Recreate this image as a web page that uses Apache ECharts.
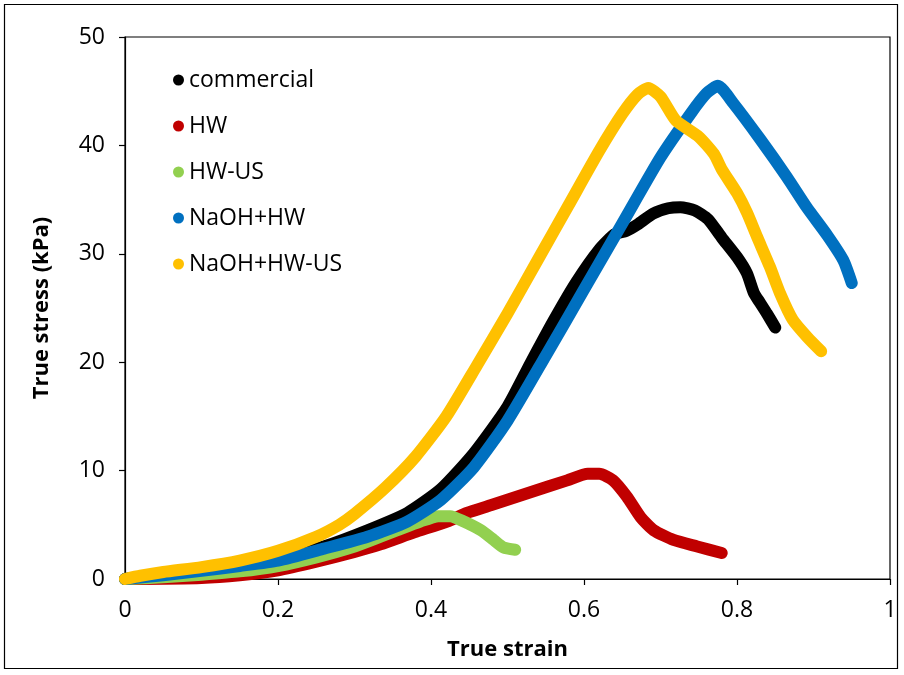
<!DOCTYPE html>
<html>
<head>
<meta charset="utf-8">
<script src="https://cdn.jsdelivr.net/npm/echarts@6/dist/echarts.min.js"></script>
<style>
html,body{margin:0;padding:0;background:#fff;}
#chart{width:904px;height:675px;}
</style>
</head>
<body>
<div id="chart"></div>
<script>
// Series names (legend order)
const seriesNames = ["commercial", "HW", "HW-US", "NaOH+HW", "NaOH+HW-US"];
const seriesColors = ["#000000", "#C00000", "#92D050", "#0070C0", "#FFC000"];

// [true strain, true stress (kPa)]
const commercial = [[0,0],[0.05,0.35],[0.1,0.75],[0.15,1.2],[0.2,1.8],[0.26,3.0],[0.317,4.5],[0.369,6.1],[0.413,8.3],[0.456,11.6],[0.5,15.9],[0.53,19.9],[0.56,23.8],[0.59,27.4],[0.62,30.4],[0.64,31.8],[0.655,32.1],[0.67,32.7],[0.69,33.7],[0.71,34.2],[0.726,34.3],[0.745,34.0],[0.762,33.2],[0.78,31.5],[0.80,29.7],[0.813,28.2],[0.822,26.4],[0.83,25.5],[0.839,24.5],[0.85,23.2]];
const hw = [[0,0],[0.1,0.1],[0.15,0.35],[0.2,0.8],[0.25,1.6],[0.3,2.5],[0.334,3.2],[0.378,4.3],[0.421,5.3],[0.447,6.1],[0.478,6.8],[0.53,8.0],[0.578,9.1],[0.605,9.7],[0.62,9.7],[0.638,9.1],[0.656,7.6],[0.674,5.7],[0.691,4.5],[0.717,3.6],[0.748,3.0],[0.78,2.4]];
const hwUs = [[0,0],[0.05,0.15],[0.1,0.4],[0.15,0.7],[0.2,1.2],[0.25,2.0],[0.3,3.0],[0.334,3.9],[0.356,4.5],[0.386,5.3],[0.41,5.8],[0.425,5.8],[0.443,5.3],[0.465,4.5],[0.482,3.6],[0.495,2.9],[0.51,2.7]];
const naohHw = [[0,0],[0.05,0.35],[0.1,0.75],[0.15,1.2],[0.2,1.7],[0.26,2.8],[0.317,3.9],[0.369,5.3],[0.413,7.3],[0.456,10.3],[0.5,14.6],[0.55,20.6],[0.6,26.7],[0.65,32.8],[0.7,38.9],[0.74,43.0],[0.76,44.8],[0.775,45.5],[0.795,43.9],[0.83,40.6],[0.865,37.1],[0.891,34.3],[0.918,31.7],[0.939,29.4],[0.95,27.3]];
const naohHwUs = [[0,0],[0.02,0.3],[0.05,0.65],[0.1,1.1],[0.15,1.7],[0.2,2.6],[0.25,3.9],[0.28,5.0],[0.3,6.0],[0.34,8.4],[0.38,11.3],[0.42,15.0],[0.46,19.7],[0.5,24.5],[0.54,29.5],[0.58,34.5],[0.62,39.5],[0.65,42.9],[0.67,44.7],[0.684,45.3],[0.70,44.5],[0.72,42.3],[0.75,40.8],[0.77,39.2],[0.78,37.8],[0.80,35.6],[0.813,33.8],[0.826,31.6],[0.843,28.8],[0.856,26.4],[0.873,23.9],[0.892,22.3],[0.91,21.0]];
const allData = [commercial, hw, hwUs, naohHw, naohHwUs];

const xTitle = "True strain";
const yTitle = "True stress (kPa)";

const chart = echarts.init(document.getElementById('chart'), null, {renderer: 'canvas'});
const font = "'Open Sans', 'Noto Sans', sans-serif";

chart.setOption({
  animation: false,
  backgroundColor: '#ffffff',
  grid: {left: 125, top: 37, right: 14, bottom: 96, show: true, borderColor: '#000', borderWidth: 1.2, backgroundColor: 'transparent'},
  graphic: [{
    type: 'rect', shape: {x: 4.5, y: 4.5, width: 893, height: 664},
    style: {fill: 'none', stroke: '#000', lineWidth: 1.2}, silent: true, z: -1
  }],
  legend: {
    orient: 'vertical', left: 168, top: 63,
    icon: 'circle', itemWidth: 11, itemHeight: 11, itemGap: 22,
    textStyle: {fontFamily: font, fontSize: 23, color: '#000', lineHeight: 24, padding: [0, 0, 0, 0]},
    data: seriesNames
  },
  xAxis: {
    type: 'value', min: 0, max: 1, interval: 0.2,
    name: xTitle, nameLocation: 'middle', nameGap: 60,
    nameTextStyle: {fontFamily: font, fontSize: 22, fontWeight: 'bold', color: '#000'},
    axisLine: {show: true, lineStyle: {color: '#000', width: 1.2}},
    axisTick: {show: true, inside: false, length: 6, lineStyle: {color: '#000', width: 1.2}},
    axisLabel: {fontFamily: font, fontSize: 23, color: '#000', margin: 20},
    splitLine: {show: false}
  },
  yAxis: {
    type: 'value', min: 0, max: 50, interval: 10,
    name: yTitle, nameLocation: 'middle', nameGap: 72,
    nameTextStyle: {fontFamily: font, fontSize: 22, fontWeight: 'bold', color: '#000'},
    axisLine: {show: true, lineStyle: {color: '#000', width: 1.2}},
    axisTick: {show: true, inside: false, length: 6, lineStyle: {color: '#000', width: 1.2}},
    axisLabel: {fontFamily: font, fontSize: 23, color: '#000', margin: 20},
    splitLine: {show: false}
  },
  series: seriesNames.map((n, i) => ({
    name: n, type: 'line', data: allData[i],
    color: seriesColors[i],
    showSymbol: false, symbol: 'circle',
    smooth: 0.2,
    lineStyle: {width: 12, color: seriesColors[i], cap: 'round', join: 'round'},
    itemStyle: {color: seriesColors[i]},
    z: 2 + i
  }))
});
</script>
</body>
</html>
